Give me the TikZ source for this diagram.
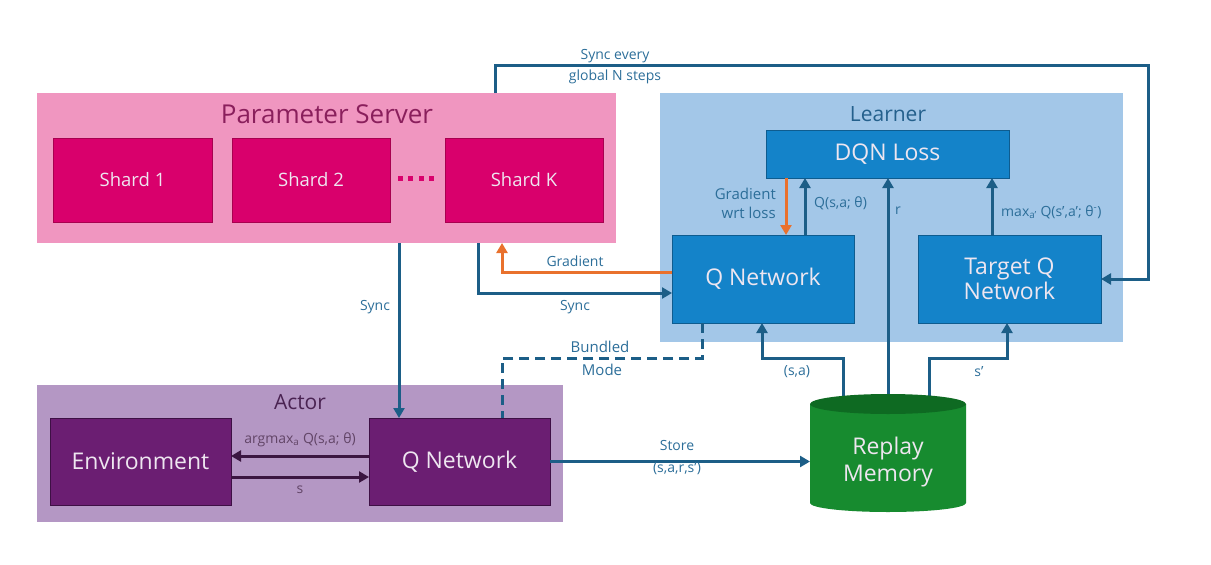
\documentclass[tikz,border=0pt]{standalone}
\usepackage{fontspec}
\setmainfont{Open Sans}
\usetikzlibrary{arrows.meta}
\definecolor{psbg}{HTML}{F096C0}
\definecolor{shard}{HTML}{D9006C}
\definecolor{shardbd}{HTML}{A8004F}
\definecolor{pstitle}{HTML}{8A1F5C}
\definecolor{lbg}{HTML}{A3C7E8}
\definecolor{ltitle}{HTML}{24608C}
\definecolor{bbox}{HTML}{1483C9}
\definecolor{bboxbd}{HTML}{0E5C8F}
\definecolor{abg}{HTML}{B497C4}
\definecolor{atitle}{HTML}{4A2352}
\definecolor{env}{HTML}{6B1E72}
\definecolor{envbd}{HTML}{3E1045}
\definecolor{rmbody}{HTML}{178B2F}
\definecolor{rmtop}{HTML}{0E6A22}
\definecolor{conn}{HTML}{1C5E87}
\definecolor{labc}{HTML}{2C6E99}
\definecolor{orng}{HTML}{E9712D}
\definecolor{parr}{HTML}{3B1641}
\definecolor{wtext}{HTML}{EEE6F0}
\begin{document}
\begin{tikzpicture}[x=1pt,y=-1pt,
  grp/.style={fill=#1,inner sep=0,outer sep=0},
  sbox/.style={fill=shard,draw=shardbd,line width=0.8,text=wtext,font=\fontsize{18.5}{20}\selectfont,inner sep=0,outer sep=0},
  bluebox/.style={fill=bbox,draw=bboxbd,line width=0.8,text=wtext,font=\fontsize{23}{27}\selectfont,align=center,inner sep=0,outer sep=0},
  pbox/.style={fill=env,draw=envbd,line width=0.8,text=wtext,font=\fontsize{23}{27}\selectfont,inner sep=0,outer sep=0},
  ttl/.style={text=#1,font=\fontsize{21}{24}\selectfont,inner sep=0},
  lab/.style={text=labc,font=\fontsize{14}{17}\selectfont,inner sep=0,align=center},
  cn/.style={draw=conn,line width=3},
  arr/.style={-{Triangle[length=10pt,width=11pt]}},
  ornge/.style={draw=orng,line width=3},
  pa/.style={draw=parr,line width=3}
]
\useasboundingbox (0,0) rectangle (1211,565);
% groups
\node[grp=psbg,minimum width=579,minimum height=150] (ps) at (326.5,168) {};
\node[ttl=pstitle,font=\fontsize{26}{28}\selectfont] (pst) at (327,114) {Parameter Server};
\node[grp=lbg,minimum width=463,minimum height=249] (lr) at (891.5,217.5) {};
\node[ttl=ltitle] (lrt) at (888,114) {Learner};
\node[grp=abg,minimum width=526,minimum height=137] (ac) at (300,453.5) {};
\node[ttl=atitle] (act) at (300,402) {Actor};
% shards
\node[sbox,minimum width=159,minimum height=84] (s1) at (132.5,180) {Shard 1};
\node[sbox,minimum width=158,minimum height=84] (s2) at (311,180) {Shard 2};
\node[sbox,minimum width=158,minimum height=84] (sk) at (524,180) {Shard K};
\foreach \i/\xx in {1/400,2/410.5,3/421,4/431.5}
  \node[fill=shard,minimum size=5,inner sep=0] (dot\i) at (\xx,178) {};
% learner boxes
\node[bluebox,minimum width=243,minimum height=48] (dqn) at (887.5,154) {DQN Loss};
\node[bluebox,minimum width=182,minimum height=88] (lq) at (763,279) {Q Network};
\node[bluebox,minimum width=183,minimum height=88] (tq) at (1009.5,279) {Target Q\\[-2pt]Network};
% actor boxes
\node[pbox,minimum width=181,minimum height=87] (env) at (140.5,461.5) {Environment};
\node[pbox,minimum width=181,minimum height=87] (aq) at (459.5,461.5) {Q Network};
% replay memory placeholder
\node[minimum width=156,minimum height=118,inner sep=0,outer sep=0] (rm) at (888,454) {};
% coordinates
\coordinate (c1) at (495,65);
\coordinate (c2) at (1148,65);
\coordinate (c3) at (399,300);
\coordinate (c4) at (478,293);
\coordinate (c5) at (502,272);
\coordinate (c6) at (786,200);
\coordinate (c7) at (805,200);
\coordinate (c8) at (992,200);
\coordinate (c9) at (843,358);
\coordinate (c10) at (762,358);
\coordinate (c11) at (929,358);
\coordinate (c12) at (1007,358);
\coordinate (c13) at (702,358);
\coordinate (c14) at (502,358);
\coordinate (c15) at (300,456);
\coordinate (c16) at (300,477);
\coordinate (c17) at (888,400);
% connectors
\draw[cn,arr] (c1 |- ps.north) -- (c1) -- (c2) |- (tq.east);
\node[lab] (l1) at (615,56) {Sync every};
\node[lab] (l2) at (615,77) {global N steps};
\draw[cn,arr] (c3 |- ps.south) -- (c3 |- aq.north);
\node[lab] (l3) at (375,307) {Sync};
\draw[cn,arr] (c4 |- ps.south) -- (c4) -- (c4 -| lq.west);
\node[lab] (l4) at (575,307) {Sync};
\draw[ornge,arr] (c5 -| lq.west) -- (c5) -- (c5 |- ps.south);
\node[lab] (l5) at (575,261) {Gradient};
\draw[ornge,arr] (c6 |- dqn.south) -- (c6 |- lq.north);
\node[lab,align=right,anchor=east,font=\fontsize{15}{19}\selectfont] (l6) at (776,203) {Gradient\\wrt loss};
\draw[cn,arr] (c7 |- lq.north) -- (c7 |- dqn.south);
\node[lab,anchor=west] (l7) at (814,203) {Q(s,a; θ)};
\draw[cn,arr] (c17) -- (c17 |- dqn.south);
\node[lab,anchor=west] (l8) at (895,211) {r};
\draw[cn,arr] (c8 |- tq.north) -- (c8 |- dqn.south);
\node[lab,anchor=west] (l9) at (1001,212) {max\textsubscript{a'} Q(s',a'; θ\textsuperscript{-})};
\draw[cn,arr] (c9 |- c17) -- (c9) -- (c10) -- (c10 |- lq.south);
\node[lab] (l10) at (797,372) {(s,a)};
\draw[cn,arr] (c11 |- c17) -- (c11) -- (c12) -- (c12 |- tq.south);
\node[lab] (l11) at (979,372) {s'};
\draw[cn,dash pattern=on 10pt off 6pt] (c13 |- lq.south) -- (c13) -- (c14) -- (c14 |- aq.north);
\node[lab,font=\fontsize{15}{17}\selectfont] (l12) at (600,347) {Bundled};
\node[lab,font=\fontsize{15}{17}\selectfont] (l13) at (602,370) {Mode};
\draw[cn,arr] (aq.east) -- (aq.east -| rm.west);
\node[lab] (l14) at (677,445) {Store};
\node[lab] (l15) at (677,469) {(s,a,r,s')};
\draw[pa,arr] (c15 -| aq.west) -- (c15 -| env.east);
\node[lab,text=parr!80] (l16) at (300,440) {argmax\textsubscript{a} Q(s,a; θ)};
\draw[pa,arr] (c16 -| env.east) -- (c16 -| aq.west);
\node[lab,text=parr!80] (l17) at (300,490) {s};
% replay memory cylinder
\fill[rmbody] (810,404) -- (810,503) arc[start angle=180,end angle=0,x radius=78,y radius=9] -- (966,404) -- cycle;
\fill[rmtop] (888,404) ellipse[x radius=78,y radius=10];
\node[text=wtext,font=\fontsize{23}{27}\selectfont,align=center,inner sep=0] (rmt) at (888,462) {Replay\\Memory};
\end{tikzpicture}
\end{document}
